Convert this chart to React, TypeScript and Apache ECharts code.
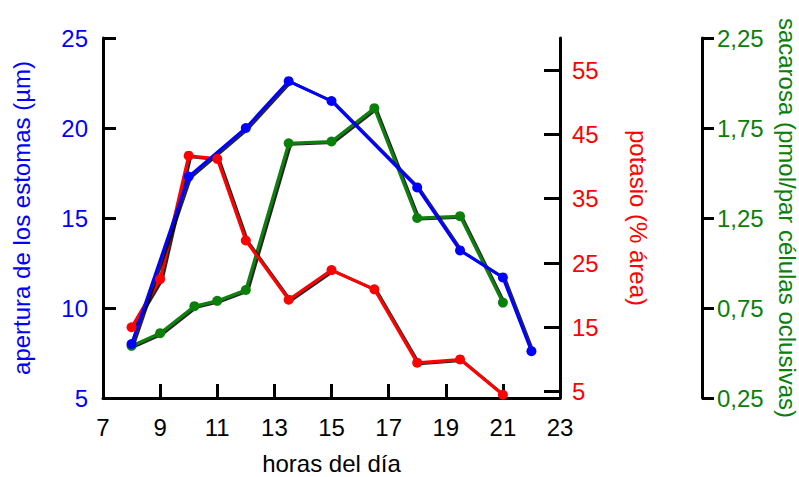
import React, { useEffect, useRef } from "react";
import * as echarts from "echarts";

const hourTicks = [7, 9, 11, 13, 15, 17, 19, 21, 23];

const aperturaHours = [8, 10, 12, 13.5, 15, 18, 19.5, 21, 22];
const aperturaValues = [8.0, 17.3, 20.0, 22.6, 21.5, 16.7, 13.2, 11.7, 7.6];

const potasioHours = [8, 9, 10, 11, 12, 13.5, 15, 16.5, 18, 19.5, 21];
const potasioValues = [15, 22.5, 41.7, 41.2, 28.5, 19.3, 23.9, 20.9, 9.5, 10, 4.5];

const sacarosaHours = [8, 9, 10.2, 11, 12, 13.5, 15, 16.5, 18, 19.5, 21];
const sacarosaValues = [0.54, 0.61, 0.76, 0.79, 0.85, 1.665, 1.675, 1.86, 1.25, 1.26, 0.78];

const potasioTicks = [5, 15, 25, 35, 45, 55];

const FONT = "'Liberation Sans', Arial, sans-serif";
const BLUE = "#0000ff";
const RED = "#ff0000";
const GREEN = "#0a800a";

const pairs = (xs: number[], ys: number[]) => xs.map((x, i) => [x, ys[i]]);

export default function App() {
  const ref = useRef<HTMLDivElement>(null);
  useEffect(() => {
    if (!ref.current) return;
    const chart = echarts.init(ref.current, null, { renderer: "svg" });
    const axisLine = { show: true, lineStyle: { color: "#000", width: 3 } };
    const lineShadow = { shadowColor: "rgba(0,0,0,0.85)", shadowOffsetX: 2, shadowOffsetY: 1, shadowBlur: 0 };
    chart.setOption({
      animation: false,
      backgroundColor: "#fff",
      textStyle: { fontFamily: FONT },
      grid: { left: 103, right: 239, top: 38, bottom: 79, containLabel: false, outerBoundsMode: "none" },
      xAxis: {
        type: "value",
        min: hourTicks[0],
        max: hourTicks[hourTicks.length - 1],
        interval: 2,
        name: "horas del día",
        nameLocation: "middle",
        nameGap: 53,
        nameTextStyle: { color: "#000", fontSize: 24, lineHeight: 24, fontFamily: FONT },
        axisLine,
        axisTick: { inside: true, length: 14, lineStyle: { color: "#000", width: 3 } },
        axisLabel: { color: "#000", fontSize: 24, margin: 17, fontFamily: FONT },
        splitLine: { show: false },
      },
      yAxis: [
        {
          type: "value",
          position: "left",
          min: 5,
          max: 25,
          interval: 5,
          name: "apertura de los estomas (µm)",
          nameLocation: "middle",
          nameRotate: 90,
          nameGap: 70,
          nameTextStyle: { color: BLUE, fontSize: 24, fontFamily: FONT },
          axisLine,
          axisTick: { inside: true, length: 13, lineStyle: { color: "#000", width: 3 } },
          axisLabel: { color: BLUE, fontSize: 24, margin: 15, fontFamily: FONT },
          splitLine: { show: false },
        },
        {
          type: "value",
          position: "right",
          min: 4,
          max: 60,
          name: "potasio (% área)",
          nameLocation: "middle",
          nameRotate: -90,
          nameGap: 66,
          nameTextStyle: { color: RED, fontSize: 24, fontFamily: FONT },
          axisLine,
          axisTick: {
            inside: true,
            length: 16,
            customValues: potasioTicks,
            lineStyle: { color: "#000", width: 3 },
          },
          axisLabel: {
            color: RED,
            fontSize: 24,
            margin: 12,
            customValues: potasioTicks,
            fontFamily: FONT,
          },
          splitLine: { show: false },
        },
        {
          type: "value",
          position: "right",
          offset: 142,
          min: 0.25,
          max: 2.25,
          interval: 0.5,
          name: "sacarosa (pmol/par células oclusivas)",
          nameLocation: "middle",
          nameRotate: -90,
          nameGap: 73,
          nameTextStyle: { color: GREEN, fontSize: 24, fontFamily: FONT },
          axisLine,
          axisTick: { inside: false, length: 12, lineStyle: { color: "#000", width: 3 } },
          axisLabel: {
            color: GREEN,
            fontSize: 24,
            margin: 15,
            fontFamily: FONT,
            formatter: (v: number) => v.toFixed(2).replace(".", ","),
          },
          splitLine: { show: false },
        },
      ],
      series: [
        {
          type: "line",
          yAxisIndex: 2,
          data: pairs(sacarosaHours, sacarosaValues),
          symbol: "circle",
          symbolSize: 10,
          itemStyle: { color: GREEN },
          lineStyle: { color: GREEN, width: 3, ...lineShadow },
        },
        {
          type: "line",
          yAxisIndex: 1,
          data: pairs(potasioHours, potasioValues),
          symbol: "circle",
          symbolSize: 10,
          itemStyle: { color: RED },
          lineStyle: { color: RED, width: 3, ...lineShadow },
        },
        {
          type: "line",
          yAxisIndex: 0,
          data: pairs(aperturaHours, aperturaValues),
          symbol: "circle",
          symbolSize: 10,
          itemStyle: { color: BLUE },
          lineStyle: { color: BLUE, width: 3, ...lineShadow },
        },
      ],
    });
    return () => chart.dispose();
  }, []);
  return (
    <div
      ref={ref}
      style={{ position: "absolute", left: 0, top: 0, width: 799, height: 477 }}
    />
  );
}
